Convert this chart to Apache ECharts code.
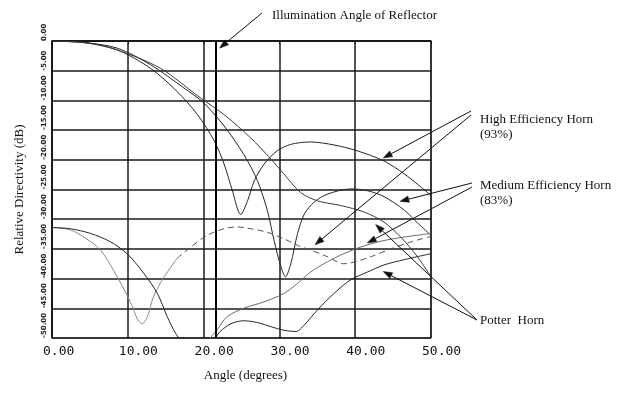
<!DOCTYPE html>
<html><head><meta charset="utf-8">
<script src="https://cdn.jsdelivr.net/npm/echarts@6/dist/echarts.min.js"></script>
<style>html,body{margin:0;padding:0;background:#fff}#c{width:620px;height:395px}</style>
</head><body><div id="c"></div>
<script>
// ---- data (angle in degrees, relative directivity in dB) ----
const xTicks = [0, 10, 20, 30, 40, 50];
const yTicks = [0, -5, -10, -15, -20, -25, -30, -35, -40, -45, -50];
const illuminationAngle = 21.6;

const highMain = [[0,0],[4.2,-0.2],[8.6,-1.5],[13.0,-4.6],[16.5,-8.5],[19.2,-12.4],[21.4,-16.8],[22.7,-20.7],[23.8,-25.2],[24.9,-29.2],[25.8,-26.9],[26.7,-23.5],[28.0,-20.7],[29.7,-18.5],[31.5,-17.4],[34.1,-17.0],[37.2,-17.5],[40.3,-18.5],[43.8,-20.2],[46.5,-22.4],[48.2,-24.1],[50,-26.0]];
const mediumMain = [[0,0],[4.4,-0.3],[8.6,-1.2],[13,-4.0],[17.4,-7.9],[20,-10.4],[22.7,-14.3],[25.3,-19.1],[27.1,-23.5],[28.4,-28.5],[29.3,-33.6],[30.2,-38],[30.8,-39.7],[31.5,-37.5],[32.4,-32.4],[33.3,-29.1],[34.6,-27.1],[36.3,-25.8],[39.4,-24.9],[41.6,-25.2],[43.8,-26.2],[46.5,-28.5],[48.2,-30.6],[50,-32.7]];
const potterMain = [[0,0],[4.4,-0.3],[8.6,-1.5],[14.3,-4.6],[19.6,-9.6],[22.7,-12.4],[26.2,-16.3],[28.9,-19.9],[30.6,-22.4],[32.8,-25.5],[35,-26.9],[38.1,-27.7],[41.2,-28.8],[43.8,-30.5],[46,-33],[48.2,-36.3],[50,-39.7]];
const highLowSolid = [[0,-31.4],[2.4,-31.8],[4.2,-33.0],[6.4,-35.2],[8.6,-39.7],[10.4,-44.1],[11.3,-46.9],[11.9,-47.6],[12.6,-46.4],[13.4,-43.0],[14.8,-39.7],[16.5,-36.6]];
const highLowDashed = [[16.5,-36.6],[18.3,-34.7],[20.5,-32.7],[22.7,-31.6],[24.4,-31.3],[26.2,-31.6],[28.4,-32.2],[30.6,-33.3],[32.4,-34.4],[34.1,-35.2],[36.3,-36.3],[38.5,-37.5],[39.9,-37.2],[42.1,-36.3],[44.7,-35.0],[47.4,-33.8],[50,-32.9]];
const mediumLow = [[19.8,-54],[20.9,-50],[21.8,-48.6],[23.1,-46.4],[25.3,-45],[28,-43.9],[30.6,-42.5],[32.4,-40.8],[34.1,-38.9],[36.3,-37.2],[38.5,-35.8],[40.7,-34.7],[43.4,-33.7],[46.5,-33.0],[50,-32.4]];
const potterLow = [[0,-31.4],[2.4,-31.6],[5.1,-32.4],[7.7,-33.8],[9.9,-35.8],[12.1,-39.1],[13.9,-42.5],[15.2,-46.4],[16.3,-49.2],[17.2,-50.8],[18.6,-53.5],[20.2,-53.5],[21.6,-50],[22.2,-48.9],[23.6,-47.6],[25.3,-47.1],[27.1,-47.4],[28.9,-48.1],[30.6,-48.7],[32.2,-48.9],[33.3,-47.8],[35,-45.3],[37.2,-42.5],[39.4,-40.2],[41.6,-38.9],[43.8,-37.7],[46.5,-36.8],[50,-35.8]];

// annotation arrow tips (data coords)
const illumArrowTip = [22.1, -1.2];
const highTips = [[43.7, -19.7], [34.7, -34.3]];
const mediumTips = [[45.9, -27.0], [41.6, -34.0]];
const potterTips = [[42.7, -30.9], [43.7, -38.8]];

const serif = "'Liberation Serif','Times New Roman',serif";
const mono = "'DejaVu Sans Mono',monospace";

const chart = echarts.init(document.getElementById('c'));
function line(data, color, width, type) {
  return { type: 'line', data, smooth: 0.3, showSymbol: false, symbol: 'none', clip: true,
    lineStyle: { color, width, type: type || 'solid' }, silent: true, z: 3 };
}
const series = [
  line(highMain, '#262626', 1),
  line(mediumMain, '#262626', 1),
  line(potterMain, '#3a3a3a', 1),
  line(highLowSolid, '#8a8a8a', 1),
  line(highLowDashed, '#555', 1, [6, 4]),
  line(mediumLow, '#6a6a6a', 1),
  line(potterLow, '#262626', 1)
];
series[0].markLine = { symbol: 'none', silent: true, label: { show: false },
  lineStyle: { color: '#000', width: 2, type: 'solid' }, data: [{ xAxis: illuminationAngle }] };

chart.setOption({
  animation: false,
  backgroundColor: '#fff',
  grid: { left: 52, top: 41, width: 379, height: 297, show: true, borderColor: '#111', borderWidth: 1 },
  xAxis: {
    type: 'value', min: 0, max: 50, interval: 10,
    name: 'Angle (degrees)', nameLocation: 'middle', nameGap: 31,
    nameTextStyle: { fontFamily: serif, fontSize: 13, color: '#111', padding: [0, 0, 0, 8] },
    axisLine: { lineStyle: { color: '#111', width: 1.5 } },
    axisTick: { show: true, length: 3, lineStyle: { color: '#111', width: 1 } },
    axisLabel: { show: false },
    splitLine: { show: true, lineStyle: { color: '#1a1a1a', width: 1.5 } }
  },
  yAxis: {
    type: 'value', min: -50, max: 0, interval: 5,
    name: 'Relative Directivity (dB)', nameLocation: 'middle', nameRotate: 90, nameGap: 26,
    nameTextStyle: { fontFamily: serif, fontSize: 13, color: '#111' },
    axisLine: { lineStyle: { color: '#111', width: 1.5 } },
    axisTick: { show: false },
    axisLabel: { rotate: 90, align: 'left', verticalAlign: 'bottom', margin: 4, fontSize: 7,
      fontWeight: 'bold', fontFamily: 'DejaVu Sans', color: '#222',
      formatter: v => (yTicks.indexOf(v) >= 0 ? v.toFixed(2) : '') },
    splitLine: { show: true, lineStyle: { color: '#1a1a1a', width: 1.5 } }
  },
  series
});

// ---- annotations (positions derived through the chart's scales) ----
const px = p => chart.convertToPixel({ xAxisIndex: 0, yAxisIndex: 0 }, p);
const g = [];
function text(t, x, y, font, align) {
  g.push({ type: 'text', silent: true, z: 10,
    style: { text: t, x, y, font, fill: '#111', align: align || 'left', verticalAlign: 'middle',
      textAlign: align || 'left', textVerticalAlign: 'middle' } });
}
function arrow(tail, tipData) {
  const tip = px(tipData);
  const dx = tip[0] - tail[0], dy = tip[1] - tail[1];
  const L = Math.hypot(dx, dy), ux = dx / L, uy = dy / L, nx = -uy, ny = ux;
  const hl = 9, hw = 3.2;
  const bx = tip[0] - ux * hl, by = tip[1] - uy * hl;
  g.push({ type: 'line', silent: true, z: 10,
    shape: { x1: tail[0], y1: tail[1], x2: bx, y2: by }, style: { stroke: '#111', lineWidth: 1 } });
  g.push({ type: 'polygon', silent: true, z: 10,
    shape: { points: [tip, [bx + nx * hw, by + ny * hw], [bx - nx * hw, by - ny * hw]] },
    style: { fill: '#111', stroke: '#111', lineWidth: 0.5 } });
}
xTicks.forEach(t => {
  const p = px([t, -50]);
  g.push({ type: 'text', silent: true, z: 10,
    style: { text: t.toFixed(2), x: p[0] - 9, y: p[1] + 7, font: '13px ' + mono, fill: '#111',
      align: 'left', verticalAlign: 'top', textAlign: 'left', textVerticalAlign: 'top' } });
});
const f13 = '13px ' + serif;
text('Illumination Angle of Reflector', 272, 16, f13);
arrow([262, 13], illumArrowTip);
text('High Efficiency Horn', 480, 120, f13);
text('(93%)', 480, 134.5, f13);
text('Medium Efficiency Horn', 480, 186, f13);
text('(83%)', 480, 200.5, f13);
text('Potter  Horn', 480, 321, f13);
arrow([471, 111], highTips[0]);
arrow([471, 115], highTips[1]);
arrow([472, 183], mediumTips[0]);
arrow([472, 187], mediumTips[1]);
arrow([477, 320], potterTips[0]);
arrow([477, 320], potterTips[1]);
chart.setOption({ graphic: g });
</script></body></html>
